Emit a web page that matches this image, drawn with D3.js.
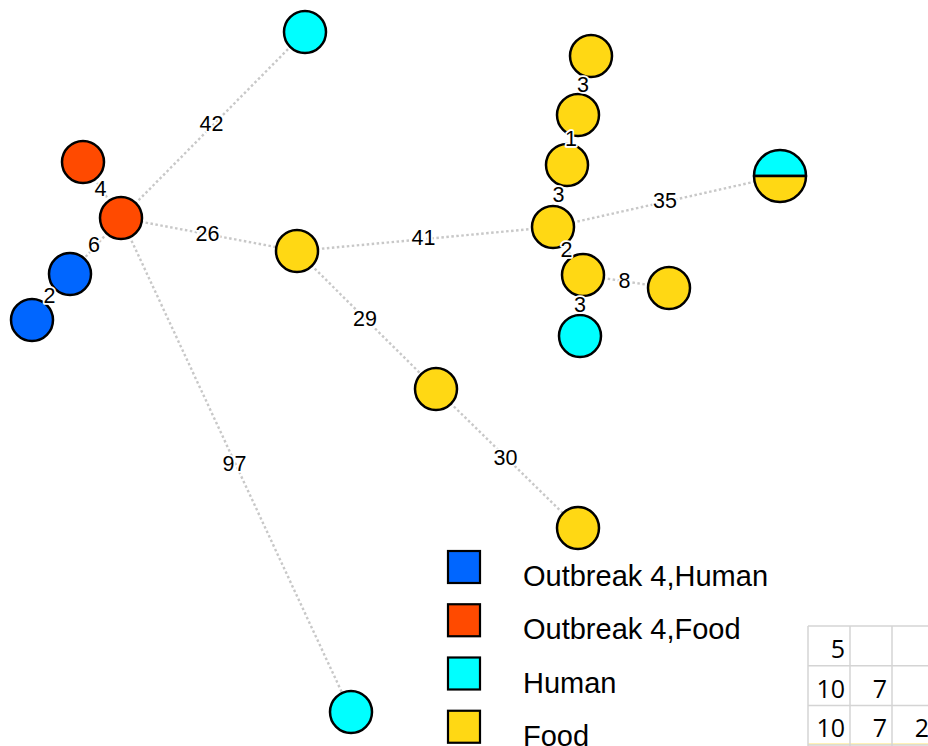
<!DOCTYPE html>
<html>
<head>
<meta charset="utf-8">
<script src="https://cdn.jsdelivr.net/npm/d3@7"></script>
<style>
  html, body { margin: 0; padding: 0; background: #fff; overflow: hidden; }
  svg { display: block; }
</style>
</head>
<body>
<svg id="chart" width="928" height="746"></svg>
<script>
// Minimum spanning tree of isolates: node categories and allelic distances.
const categories = ["Outbreak 4,Human", "Outbreak 4,Food", "Human", "Food"];
const categoryColors = ["#0066ff", "#ff4a00", "#00ffff", "#ffd814"];

// Nodes: id, sample categories held by the node (split node holds two).
const nodeIds   = ["H1", "O4F1", "O4F2", "O4H1", "O4H2", "F1", "F2", "F3", "H2",
                   "F4", "F5", "F6", "F7", "F8", "F9", "H3", "M1"];
const nodeTypes = [["Human"], ["Outbreak 4,Food"], ["Outbreak 4,Food"], ["Outbreak 4,Human"],
                   ["Outbreak 4,Human"], ["Food"], ["Food"], ["Food"], ["Human"],
                   ["Food"], ["Food"], ["Food"], ["Food"], ["Food"], ["Food"], ["Human"],
                   ["Human", "Food"]];
// Layout coordinates produced by the tree layout (layout units).
const nodeLayoutX = [305, 83, 121, 70, 32, 297, 436, 578, 351, 591, 578, 567, 553, 583, 669, 580, 780];
const nodeLayoutY = [32, 162, 218, 274, 320, 251, 389, 528, 712, 56, 115, 165, 227, 275, 288, 336, 176];

// Edges: source, target, distance.
const edgeSource   = ["O4F2", "O4F2", "O4F2", "O4F2", "O4F2", "O4H1", "F1", "F1", "F2",
                      "F7", "F7", "F6", "F5", "F7", "F8", "F8"];
const edgeTarget   = ["H1", "O4F1", "O4H1", "F1", "H2", "O4H2", "F7", "F2", "F3",
                      "M1", "F6", "F5", "F4", "F8", "F9", "H3"];
const edgeDistance = [42, 4, 6, 26, 97, 2, 41, 29, 30, 35, 3, 1, 3, 2, 8, 3];

// Distance matrix fragment shown beside the tree.
const matrixRows = [["5", "", ""], ["10", "7", ""], ["10", "7", "2"]];

const width = 928, height = 746;
const svg = d3.select("#chart");

const x = d3.scaleLinear().domain([0, 928]).range([0, width]);
const y = d3.scaleLinear().domain([0, 746]).range([0, height]);
const color = d3.scaleOrdinal().domain(categories).range(categoryColors);

const nodes = nodeIds.map((id, i) => ({
  id, types: nodeTypes[i], x: x(nodeLayoutX[i]), y: y(nodeLayoutY[i])
}));
const byId = new Map(nodes.map(n => [n.id, n]));
const edges = edgeSource.map((s, i) => ({
  source: byId.get(s), target: byId.get(edgeTarget[i]), d: edgeDistance[i]
}));

const radius = n => n.types.length > 1 ? 26 : 21;

// Edges
svg.append("g")
  .selectAll("line")
  .data(edges)
  .join("line")
  .attr("x1", d => d.source.x).attr("y1", d => d.source.y)
  .attr("x2", d => d.target.x).attr("y2", d => d.target.y)
  .attr("stroke", "#c8c8c8")
  .attr("stroke-width", 2.4)
  .attr("stroke-dasharray", "2.5,2.5");

// Nodes, drawn as pies of their categories
const pie = d3.pie().sort(null).value(1).startAngle(-Math.PI / 2).endAngle(1.5 * Math.PI);
const nodeG = svg.append("g")
  .selectAll("g")
  .data(nodes)
  .join("g")
  .attr("transform", d => `translate(${d.x},${d.y})`);

nodeG.each(function (d) {
  const g = d3.select(this);
  const r = radius(d);
  if (d.types.length === 1) {
    g.append("circle").attr("r", r)
      .attr("fill", color(d.types[0]))
      .attr("stroke", "#000").attr("stroke-width", 2.5);
  } else {
    const arc = d3.arc().innerRadius(0).outerRadius(r);
    g.selectAll("path")
      .data(pie(d.types))
      .join("path")
      .attr("d", arc)
      .attr("fill", a => color(a.data))
      .attr("stroke", "#000").attr("stroke-width", 2.5)
      .attr("stroke-linejoin", "round");
  }
});

// Edge distance labels at the edge midpoints
svg.append("g")
  .selectAll("text")
  .data(edges)
  .join("text")
  .attr("x", d => (d.source.x + d.target.x) / 2 - 1.5)
  .attr("y", d => (d.source.y + d.target.y) / 2 - 1.5)
  .attr("dy", "0.35em")
  .attr("text-anchor", "middle")
  .attr("font-family", "Liberation Sans, Arial, sans-serif")
  .attr("font-size", 21.5)
  .attr("fill", "#000")
  .attr("stroke", "#fff")
  .attr("stroke-width", 3.5)
  .attr("paint-order", "stroke")
  .attr("stroke-linejoin", "round")
  .text(d => d.d);

// Legend
const legendY = d3.scaleBand().domain(categories).range([551, 764]).paddingInner(0);
const legend = svg.append("g")
  .selectAll("g")
  .data(categories)
  .join("g")
  .attr("transform", c => `translate(448,${legendY(c)})`);
legend.append("rect")
  .attr("width", 32).attr("height", 32)
  .attr("fill", c => color(c))
  .attr("stroke", "#000").attr("stroke-width", 2.2);
legend.append("text")
  .attr("x", 75).attr("y", 35)
  .attr("font-family", "Liberation Sans, Arial, sans-serif")
  .attr("font-size", 29)
  .attr("fill", "#000")
  .text(c => c);

// Distance matrix grid
const colX = d3.scaleBand().domain(d3.range(4)).range([808, 808 + 4 * 42]);
const rowY = d3.scaleBand().domain(d3.range(matrixRows.length + 1)).range([626, 626 + 4 * 39.7]);
const grid = svg.append("g");
grid.append("line")
  .attr("x1", 808).attr("x2", 808 + 4 * 42)
  .attr("y1", 744).attr("y2", 744)
  .attr("stroke", "#fff2b8").attr("stroke-width", 2);
d3.range(4).forEach(r => {
  grid.append("line")
    .attr("x1", 808).attr("x2", 808 + 4 * 42)
    .attr("y1", rowY(r)).attr("y2", rowY(r))
    .attr("stroke", "#d4d4d4").attr("stroke-width", 1.5);
});
d3.range(4).forEach(c => {
  grid.append("line")
    .attr("x1", colX(c)).attr("x2", colX(c))
    .attr("y1", 626).attr("y2", 746)
    .attr("stroke", "#d4d4d4").attr("stroke-width", 1.5);
});
matrixRows.forEach((row, r) => {
  row.forEach((v, c) => {
    grid.append("text")
      .attr("x", colX(c) + colX.bandwidth() - 5)
      .attr("y", rowY(r) + 32)
      .attr("text-anchor", "end")
      .attr("font-family", "Open Sans, Liberation Sans, sans-serif")
      .attr("font-size", 25)
      .attr("fill", "#000")
      .text(v);
  });
});
</script>
</body>
</html>
